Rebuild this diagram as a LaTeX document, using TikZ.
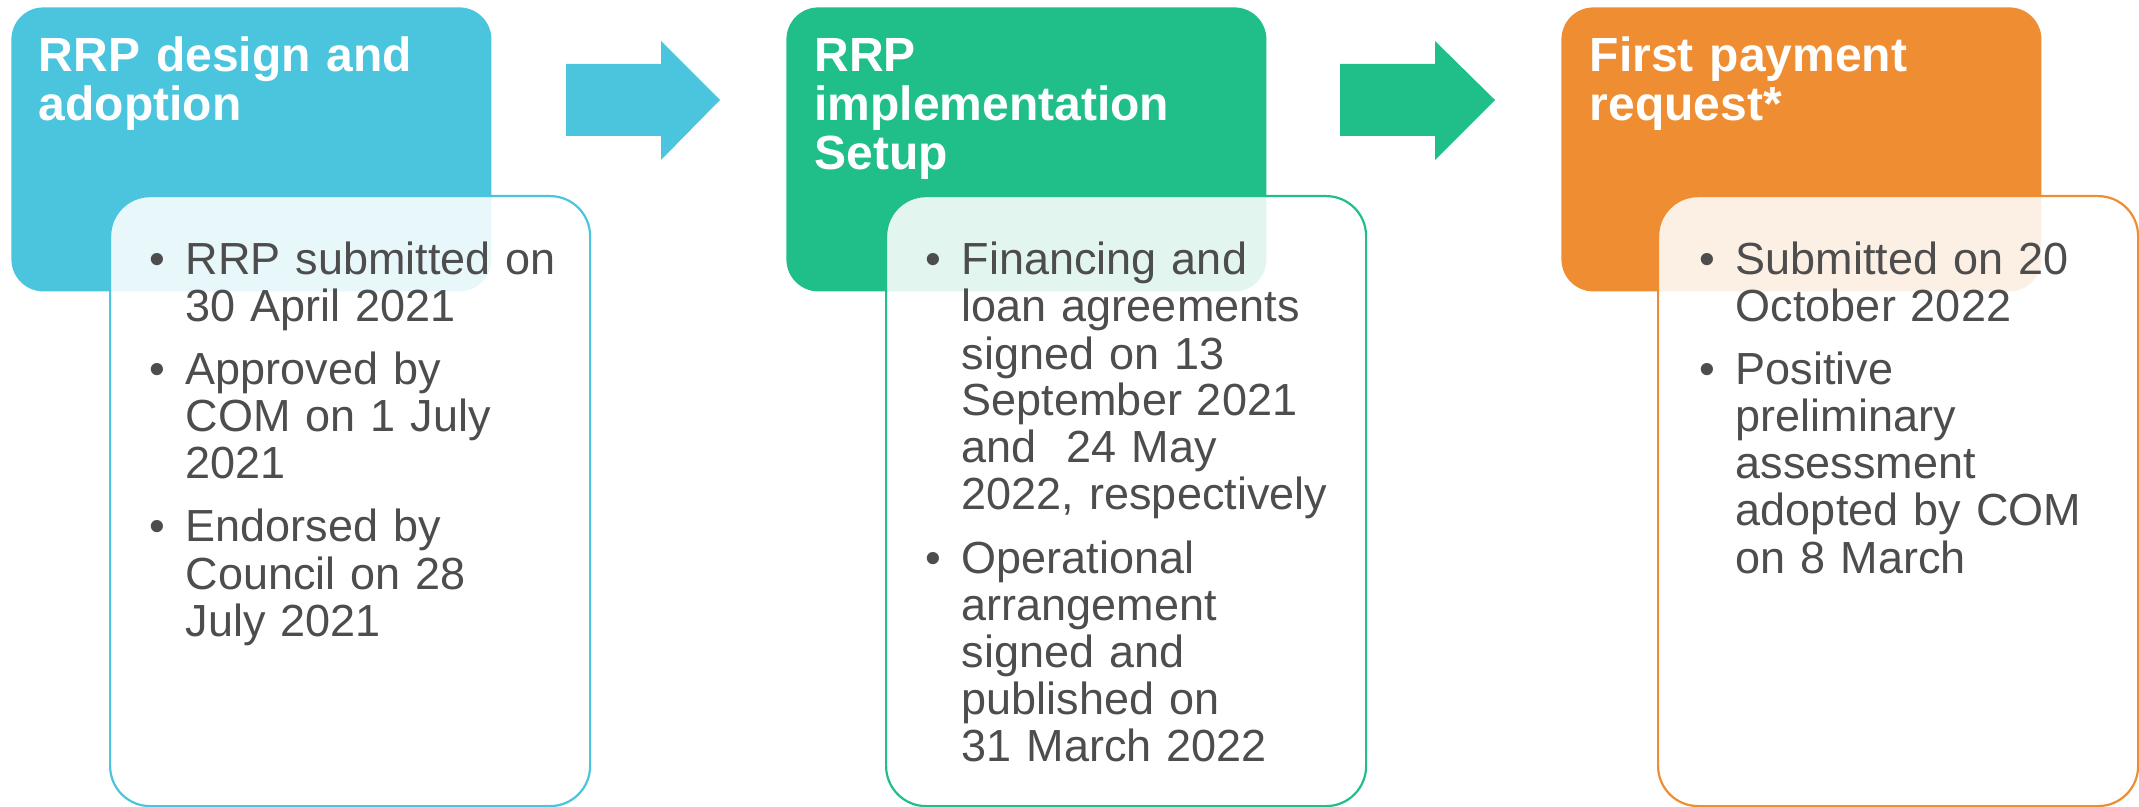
\documentclass[tikz,border=0pt]{standalone}
\usepackage{fontspec}
\setmainfont{Liberation Sans}

\definecolor{stageblue}{RGB}{75,196,222}
\definecolor{stagegreen}{RGB}{32,191,138}
\definecolor{stageorange}{RGB}{238,141,49}
\definecolor{bodygray}{RGB}{77,77,77}

\newenvironment{stagelist}{%
  \begin{list}{\textbullet}{%
    \setlength\leftmargin{18pt}\setlength\labelwidth{18pt}%
    \setlength\labelsep{0pt}\setlength\itemindent{0pt}%
    \setlength\itemsep{8pt}\setlength\parsep{0pt}\setlength\topsep{0pt}%
    \renewcommand\makelabel[1]{##1\hfil}}}%
  {\end{list}}

\begin{document}
\begin{tikzpicture}[x=0.5pt,y=-0.5pt,
  headbox/.style={rounded corners=16pt,minimum width=240pt,minimum height=142pt,anchor=north west,inner sep=0pt},
  detailbox/.style={rounded corners=20pt,minimum width=240pt,minimum height=305pt,anchor=north west,inner sep=0pt,line width=1.1pt,fill=white,fill opacity=0.87},
  headtext/.style={anchor=base west,inner sep=0pt,text=white,text width=230pt,align=left,font=\fontsize{24}{24.5}\selectfont\bfseries},
  bodytext/.style={anchor=base west,inner sep=0pt,text=bodygray,text width=300pt,align=left,font=\fontsize{22.5}{23.5}\selectfont}]
  \useasboundingbox (0,0) rectangle (2139,807);

  % headers
  \node[headbox,fill=stageblue] (designhead) at (11,7) {};
  \node[headbox,fill=stagegreen] (setuphead) at (786,7) {};
  \node[headbox,fill=stageorange] (paymenthead) at (1561,7) {};

  % arrows
  \fill[stageblue] (566,64) -- (661,64) -- (661,41) -- (720,100) -- (661,160) -- (661,136) -- (566,136) -- cycle;
  \fill[stagegreen] (1340,64) -- (1435,64) -- (1435,41) -- (1495,100) -- (1435,160) -- (1435,136) -- (1340,136) -- cycle;

  % detail boxes
  \node[detailbox,draw=stageblue] (designdetail) at (109,195) {};
  \node[detailbox,draw=stagegreen] (setupdetail) at (885,195) {};
  \node[detailbox,draw=stageorange] (paymentdetail) at (1657,195) {};

  % titles
  \node[headtext] (designtitle) at (38.5,72) {RRP design and\\adoption};
  \node[headtext] (setuptitle) at (814,72) {RRP\\implementation\\Setup};
  \node[headtext] (paymenttitle) at (1589.5,72) {First payment\\request*};

  % bullet lists
  \node[bodytext] (designitems) at (149.5,228) {\begin{stagelist}
    \item RRP submitted on\\30 April 2021
    \item Approved by\\COM on 1 July\\2021
    \item Endorsed by\\Council on 28\\July 2021
  \end{stagelist}};
  \node[bodytext] (setupitems) at (925.5,228) {\begin{stagelist}
    \item Financing and\\loan agreements\\signed on 13\\September 2021\\and\ \ 24 May\\2022, respectively
    \item Operational\\arrangement\\signed and\\published on\\31 March 2022
  \end{stagelist}};
  \node[bodytext] (paymentitems) at (1699.5,228) {\begin{stagelist}
    \item Submitted on 20\\October 2022
    \item Positive\\preliminary\\assessment\\adopted by COM\\on 8 March
  \end{stagelist}};
\end{tikzpicture}
\end{document}
